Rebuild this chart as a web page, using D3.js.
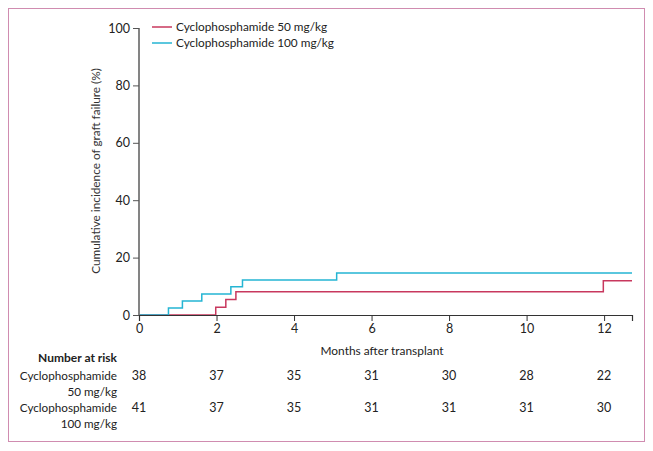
<!DOCTYPE html>
<html><head><meta charset="utf-8">
<script src="https://cdn.jsdelivr.net/npm/d3@7"></script>
<style>body{margin:0;background:#fff;} text{font-family:Lato,sans-serif;}</style>
</head><body><svg id="c" width="653" height="451"></svg>
<script>
const seriesNames = ["Cyclophosphamide 50 mg/kg", "Cyclophosphamide 100 mg/kg"];
const seriesColors = ["#c8385e", "#25b5d3"];
// step curves: [month, cumulative incidence %]
const low = [[0,0],[1.98,2.7],[2.24,5.4],[2.5,8.1],[11.98,11.9],[12.72,11.9]];
const high = [[0,0],[0.76,2.4],[1.12,4.9],[1.62,7.3],[2.37,9.8],[2.67,12.2],[5.1,14.6],[12.72,14.6]];
const xTicks = [0,2,4,6,8,10,12];
const yTicks = [0,20,40,60,80,100];
const riskTimes = [0,2,4,6,8,10,12];
const riskLow = [38,37,35,31,30,28,22];
const riskHigh = [41,37,35,31,31,31,30];
const rowLabels = [["Cyclophosphamide","50 mg/kg"],["Cyclophosphamide","100 mg/kg"]];

const svg = d3.select("#c");
svg.append("rect").attr("x",8.5).attr("y",8.5).attr("width",636).attr("height",433)
  .attr("fill","none").attr("stroke","#d08cb0").attr("stroke-width",1);

const x = d3.scaleLinear().domain([0,12.72]).range([139,632]);
const y = d3.scaleLinear().domain([0,100]).range([315,28]);

const line = d3.line().x(d=>x(d[0])).y(d=>y(d[1])).curve(d3.curveStepAfter);
[low, high].forEach((s,i)=>{
  svg.append("path").datum(s).attr("d",line).attr("fill","none")
    .attr("stroke",seriesColors[i]).attr("stroke-width",1.5);
});

const gx = svg.append("g").attr("transform","translate(0,315)")
  .call(d3.axisBottom(x).tickValues(xTicks).tickSize(6).tickPadding(3).tickFormat(d3.format("d")));
gx.select(".domain").attr("stroke","#333").attr("stroke-width",1.2);
gx.selectAll(".tick line").attr("stroke","#333");
gx.selectAll("text").attr("font-size",12.5).attr("fill","#222").style("font-family","Lato,sans-serif");

const gy = svg.append("g").attr("transform","translate(139,0)")
  .call(d3.axisLeft(y).tickValues(yTicks).tickSize(6).tickPadding(3));
gy.select(".domain").attr("stroke","#777").attr("stroke-width",1.8).attr("d","M0,28V315");
gy.selectAll(".tick line").attr("stroke","#555");
gy.selectAll("text").attr("font-size",12.5).attr("fill","#222").style("font-family","Lato,sans-serif");

svg.append("text").attr("transform","translate(100,171) rotate(-90)")
  .attr("text-anchor","middle").attr("font-size",11.8).attr("fill","#333")
  .text("Cumulative incidence of graft failure (%)");
svg.append("text").attr("x",382).attr("y",355).attr("text-anchor","middle")
  .attr("font-size",11.9).attr("fill","#222").text("Months after transplant");

// legend
seriesNames.forEach((n,i)=>{
  const ly = 27 + i*16;
  svg.append("line").attr("x1",152).attr("x2",172).attr("y1",ly).attr("y2",ly)
    .attr("stroke",seriesColors[i]).attr("stroke-width",1.5);
  svg.append("text").attr("x",176).attr("y",ly+4).attr("font-size",11.8).attr("fill","#222").text(n);
});

// number at risk
svg.append("text").attr("x",117).attr("y",362).attr("text-anchor","end")
  .attr("font-size",12).attr("font-weight","bold").attr("fill","#222").text("Number at risk");
[riskLow, riskHigh].forEach((r,i)=>{
  const by = 380 + i*32;
  svg.append("text").attr("x",117).attr("y",by).attr("text-anchor","end").attr("font-size",11.7).attr("fill","#222").text(rowLabels[i][0]);
  svg.append("text").attr("x",117).attr("y",by+16).attr("text-anchor","end").attr("font-size",11.7).attr("fill","#222").text(rowLabels[i][1]);
  r.forEach((v,j)=>{
    svg.append("text").attr("x",x(riskTimes[j])).attr("y",by).attr("text-anchor","middle")
      .attr("font-size",12.5).attr("fill","#222").text(v);
  });
});
</script></body></html>
